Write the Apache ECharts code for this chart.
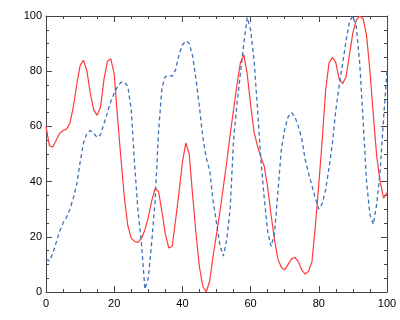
<!DOCTYPE html>
<html><head><meta charset="utf-8">
<script src="https://cdn.jsdelivr.net/npm/echarts@6/dist/echarts.min.js"></script>
<style>html,body{margin:0;padding:0;background:#fff}#c{width:400px;height:320px}</style>
</head><body><div id="c"></div>
<script>
var xValues = [];
for (var i = 0; i <= 100; i++) xValues.push(i);
var redValues = [60,53,52.5,55,57.5,58.5,59,61,67,75,82,84,80,72,66,64,67,77,83.5,84.5,79,63,48,34,24,19.5,18.3,18,19.5,22.5,27,33,37.5,36.5,29,21,16,16.5,26,36,47,54,50,35,21,9,2,0,4,13,21,29,38,47,57,66,75,83,86,79,68,58,53,49,45.5,38,28,19,12,9,8,10,12,12.5,11,8,6.5,7.5,11,24,39,55,73,83,85,83,77,75.5,78,86,94,98.5,100,99,93,80,64,49,40,34,36];
var blueValues = [12,11.3,14,18,22,25,27,30,34,39,47,54,57.5,58.5,57.5,56,57,61,65,69,72,74.5,76,76,74.5,66,46,29,17.5,1,5,18,33,58,74,78,78.5,78.2,80.5,86,89.5,91,90,85.5,77,67,56,48.5,44,33,25,17,13,19,30,55,68,79,90,99.5,95,84,67,48,34,22,16.5,21,36,51.5,59,63.5,65,63.5,60,55.5,48,43,38.5,34,30,32,37,45,54,66,75,83,91,98,100,96,83,62,40,28,24.5,32,44,63,80];
var xTicks = [0,20,40,60,80,100];
var yTicks = [0,20,40,60,80,100];

function pairs(v){ return xValues.map(function(x,i){ return [x, v[i]]; }); }
var axisColor = '#444';
var font = {fontFamily:'Liberation Sans, Arial, sans-serif', fontSize:11, color:'#000'};
function mkAxis(pos, showLabel, ticks){
  return {
    type:'value', position: pos, min: ticks[0], max: ticks[ticks.length-1], interval: 20,
    axisLine:{show:true, onZero:false, lineStyle:{color:axisColor, width:1}},
    axisTick:{show:true, inside:true, length:6, lineStyle:{color:axisColor}},
    minorTick:{show:true, splitNumber:4, length:3, lineStyle:{color:axisColor}},
    splitLine:{show:false},
    axisLabel: Object.assign({show:showLabel, margin: pos==='bottom'?6:4}, font)
  };
}
var chart = echarts.init(document.getElementById('c'), null, {renderer:'canvas'});
chart.setOption({
  animation:false,
  backgroundColor:'#fff',
  grid:{left:46, right:13, top:16, bottom:28, containLabel:false},
  xAxis:[mkAxis('bottom', true, xTicks), mkAxis('top', false, xTicks)],
  yAxis:[mkAxis('left', true, yTicks), mkAxis('right', false, yTicks)],
  series:[
    {type:'line', data:pairs(redValues), showSymbol:false, symbol:'none', smooth:false,
     lineStyle:{color:'#ff3b3b', width:1.2}},
    {type:'line', data:pairs(blueValues), showSymbol:false, symbol:'none', smooth:false,
     lineStyle:{color:'#3f72b8', width:1.3, type:[4,3]}}
  ]
});
</script></body></html>
